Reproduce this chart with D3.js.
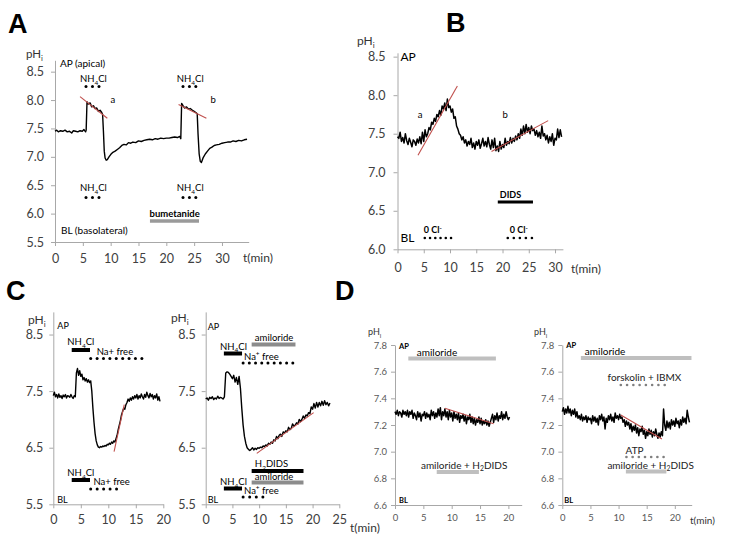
<!DOCTYPE html>
<html><head><meta charset="utf-8">
<script src="https://cdn.jsdelivr.net/npm/d3@7"></script>
<style>body{margin:0;background:#fff}svg{display:block}text{font-family:Lato,"Open Sans",sans-serif}</style>
</head><body><svg id="c" width="748" height="545"></svg>
<script>
// ---------------- DATA ----------------
const A_time = [0,0.3,0.6,1,1.4,1.8,2.2,2.6,3,3.3,3.7,4.1,4.5,4.9,5.2,5.5,5.6,5.75,6.0,6.3,6.6,6.9,7.2,7.5,7.8,8.1,8.4,8.55,8.7,8.85,9.0,9.2,9.4,9.7,10,10.4,10.8,11.2,11.6,12,12.4,12.8,13.2,13.6,14,14.5,15,15.5,16,16.5,17,17.5,18,18.5,19,19.5,20,20.5,21,21.5,22,22.4,22.6,22.75,23,23.3,23.6,24,24.3,24.7,25,25.3,25.55,25.7,25.9,26.1,26.3,26.6,27,27.4,27.8,28.2,28.6,29,29.5,30,30.5,31,31.5,32,32.5,33,33.5,34,34.5];
const A_pH = [7.45,7.47,7.44,7.46,7.45,7.47,7.44,7.45,7.42,7.46,7.45,7.44,7.46,7.45,7.48,7.44,7.47,7.97,7.93,7.95,7.88,7.90,7.85,7.86,7.80,7.82,7.78,7.75,7.45,7.10,6.98,6.94,6.95,7.00,7.04,7.08,7.10,7.13,7.16,7.20,7.22,7.21,7.25,7.24,7.26,7.25,7.28,7.27,7.29,7.30,7.31,7.30,7.32,7.31,7.33,7.32,7.33,7.33,7.34,7.35,7.34,7.36,7.32,7.94,7.90,7.86,7.88,7.84,7.85,7.82,7.80,7.78,7.76,7.40,7.05,6.92,6.90,6.98,7.05,7.10,7.15,7.17,7.20,7.21,7.22,7.24,7.25,7.26,7.26,7.28,7.27,7.29,7.28,7.30,7.31];
const A_fits = [[4.5,8.06,9.4,7.68],[22.2,7.92,27.2,7.68]];
const A_xTicks = [0,5,10,15,20,25,30];
const A_yTicks = [5.5,6.0,6.5,7.0,7.5,8.0,8.5];

const B_step = 0.25;
const B_pH = [7.46,7.44,7.52,7.40, 7.45,7.38,7.50,7.41, 7.36,7.44,7.39,7.33, 7.42,7.40,7.35,7.43,
  7.38,7.46,7.37,7.52, 7.40,7.55,7.46,7.50, 7.58,7.55,7.65,7.62, 7.70,7.66,7.75,7.72,
  7.80,7.74,7.86,7.82, 7.90,7.80,7.95,7.84, 7.86,7.78,7.82,7.70, 7.72,7.60,7.56,7.50,
  7.48,7.42,7.46,7.38, 7.42,7.34,7.40,7.36, 7.44,7.32,7.38,7.30, 7.40,7.35,7.42,7.31,
  7.37,7.44,7.34,7.40, 7.33,7.45,7.36,7.30, 7.42,7.32,7.44,7.28, 7.34,7.27,7.40,7.30,
  7.36,7.32,7.44,7.35, 7.40,7.37,7.45,7.38, 7.44,7.40,7.47,7.42, 7.50,7.44,7.56,7.48,
  7.60,7.50,7.62,7.52, 7.58,7.50,7.60,7.54, 7.56,7.48,7.54,7.46, 7.52,7.44,7.60,7.47,
  7.50,7.42,7.48,7.38, 7.46,7.40,7.50,7.35, 7.44,7.42,7.56,7.45, 7.55,7.46];
const B_fits = [[3.9,7.22,11.4,8.12],[17.9,7.27,28.7,7.67]];
const B_xTicks = [0,5,10,15,20,25,30];
const B_yTicks = [6.0,6.5,7.0,7.5,8.0,8.5];

const C1_step = 0.2;
const C1_pH = [7.42,7.48,7.40,7.44,7.38, 7.45,7.39,7.42,7.37,7.43, 7.40,7.44,7.38,7.42,7.41, 7.39,7.44,7.40,7.37,7.42,
  7.40,7.82,7.90,7.78,7.86, 7.76,7.80,7.70,7.74,7.68, 7.72,7.66,7.70,7.65,7.68, 7.50,7.20,6.95,6.75,6.62,
  6.55,6.51,6.50,6.52,6.51, 6.53,6.52,6.54,6.53,6.56, 6.55,6.58,6.56,6.60,6.58, 6.62,6.60,6.66,6.72,6.82,
  6.90,6.98,7.08,7.14,7.20, 7.18,7.26,7.30,7.36,7.32, 7.38,7.34,7.40,7.36,7.42, 7.38,7.44,7.36,7.42,7.38,
  7.45,7.40,7.36,7.44,7.39, 7.48,7.42,7.38,7.46,7.40, 7.44,7.36,7.42,7.38,7.45, 7.34,7.40,7.32];
const C1_fits = [[11.05,6.43,12.9,7.26]];
const C1_xTicks = [0,5,10,15,20];
const C_yTicks = [5.5,6.5,7.5,8.5];

const C2_step = 0.25;
const C2_pH = [7.36,7.38,7.34,7.39, 7.37,7.40,7.35,7.38, 7.36,7.41,7.37,7.39, 7.38,7.36,7.40,7.82,
  7.84,7.83,7.80,7.76, 7.72,7.78,7.66,7.74, 7.62,7.76,7.55,7.20, 6.90,6.70,6.58,6.50,
  6.47,6.45,6.47,6.50, 6.46,6.49,6.47,6.50, 6.49,6.51,6.50,6.53, 6.52,6.55,6.53,6.58,
  6.56,6.60,6.58,6.64, 6.62,6.70,6.66,6.72, 6.74,6.70,6.78,6.76, 6.80,6.78,6.86,6.82,
  6.84,6.92,6.88,6.90, 6.94,6.92,7.00,6.96, 7.00,7.06,7.02,7.08, 7.06,7.12,7.10,7.22,
  7.18,7.28,7.20,7.30, 7.22,7.30,7.24,7.32, 7.25,7.33,7.26,7.30, 7.24,7.29];
const C2_fits = [[9.55,6.40,20.2,7.12]];
const C2_xTicks = [0,5,10,15,20,25];

const D1_step = 0.2;
const D1_pH = [7.30,7.28,7.31,7.27,7.30, 7.29,7.26,7.31,7.28,7.30, 7.27,7.31,7.26,7.30,7.28, 7.31,7.25,7.29,7.27,7.24,
  7.30,7.26,7.29,7.23,7.28, 7.27,7.30,7.25,7.29,7.26, 7.28,7.24,7.31,7.27,7.30, 7.25,7.29,7.26,7.32,7.27,
  7.33,7.24,7.30,7.27,7.32, 7.26,7.30,7.24,7.31,7.26, 7.29,7.23,7.30,7.25,7.28, 7.24,7.29,7.22,7.27,7.25,
  7.28,7.23,7.27,7.21,7.26, 7.24,7.28,7.22,7.26,7.21, 7.25,7.20,7.24,7.22,7.26, 7.21,7.25,7.20,7.23,7.21,
  7.24,7.20,7.23,7.19,7.22, 7.25,7.28,7.22,7.27,7.24, 7.29,7.23,7.27,7.25,7.30, 7.24,7.28,7.25,7.30,7.26, 7.24,7.26];
const D1_fits = [[8.8,7.325,17.4,7.21]];

const D2_step = 0.2;
const D2_pH = [7.30,7.33,7.28,7.32,7.29, 7.34,7.29,7.32,7.27,7.31, 7.28,7.32,7.26,7.30,7.25, 7.27,7.24,7.28,7.23,7.26,
  7.24,7.27,7.22,7.26,7.24, 7.25,7.21,7.27,7.23,7.26, 7.22,7.25,7.20,7.27,7.24, 7.28,7.23,7.26,7.17,7.25,
  7.22,7.27,7.24,7.28,7.23, 7.26,7.22,7.29,7.25,7.27, 7.24,7.28,7.25,7.26,7.22, 7.24,7.19,7.23,7.20,7.22,
  7.17,7.21,7.15,7.19,7.16, 7.20,7.14,7.18,7.12,7.17, 7.15,7.19,7.13,7.16,7.10, 7.15,7.12,7.17,7.13,7.16,
  7.11,7.15,7.12,7.17,7.13, 7.10,7.14,7.11,7.15,7.12, 7.32,7.20,7.16,7.23,7.18, 7.22,7.17,7.24,7.20,7.23,
  7.19,7.25,7.21,7.23,7.18, 7.24,7.20,7.26,7.22,7.25, 7.21,7.31,7.26,7.22];
const D2_fits = [[10.4,7.275,17.7,7.095]];
const D_xTicks = [0,5,10,15,20];
const D_yTicks = [6.6,6.8,7.0,7.2,7.4,7.6,7.8];

// ---------------- HELPERS ----------------
const svg = d3.select('#c');
const RED = '#c0504d';

function rich(g, str, x, y, o) {
  o = o || {};
  const fs = o.fs || 10;
  const t = g.append('text').attr('x', x).attr('y', y)
    .attr('font-size', fs).attr('fill', o.fill || '#000')
    .attr('text-anchor', o.anchor || 'start')
    .attr('font-weight', o.bold ? 'bold' : 'normal');
  const re = /(_\{[^}]*\}|_.|\^\{[^}]*\}|\^.|[^_^]+)/g;
  let m, off = 0;
  while ((m = re.exec(str))) {
    let s = m[0];
    if (s[0] === '_' || s[0] === '^') {
      const sub = s[0] === '_';
      let c = s.slice(1); if (c[0] === '{') c = c.slice(1, -1);
      const d = sub ? fs * 0.28 : -fs * 0.38;
      t.append('tspan').attr('dy', d - off).attr('font-size', fs * 0.68).text(c);
      off = d;
    } else {
      t.append('tspan').attr('dy', -off).text(s);
      off = 0;
    }
  }
  return t;
}

function panel(p) {
  const g = svg.append('g');
  const x = d3.scaleLinear().domain(p.xd).range(p.xr);
  const y = d3.scaleLinear().domain(p.yd).range(p.yr);
  const ax = g.append('g').attr('transform', `translate(0,${y(p.yd[0])})`)
    .call(d3.axisBottom(x).tickValues(p.xTicks).tickSize(4).tickSizeOuter(0).tickPadding(p.xPad).tickFormat(d3.format('d')));
  const ay = g.append('g').attr('transform', `translate(${x(0)},0)`)
    .call(d3.axisLeft(y).tickValues(p.yTicks).tickSize(4).tickSizeOuter(0).tickPadding(p.yPad).tickFormat(d3.format('.1f')));
  [ax, ay].forEach(a => {
    a.select('.domain').attr('stroke', '#a8a8a8');
    a.selectAll('.tick line').attr('stroke', '#a8a8a8');
    a.selectAll('.tick text').attr('fill', p.tickColor || '#404040')
      .attr('font-size', p.fs).style('font-family', 'Lato, sans-serif');
  });
  const pts = p.t.map((t, i) => [t, p.v[i]]);
  g.append('path').datum(pts).attr('fill', 'none').attr('stroke', '#000')
    .attr('stroke-width', p.lw || 1.4).attr('stroke-linejoin', 'round')
    .attr('d', d3.line().x(d => x(d[0])).y(d => y(d[1])));
  g.selectAll('line.fit').data(p.fits).enter().append('line').attr('class', 'fit')
    .attr('x1', d => x(d[0])).attr('y1', d => y(d[1]))
    .attr('x2', d => x(d[2])).attr('y2', d => y(d[3]))
    .attr('stroke', RED).attr('stroke-width', 1.1);
  (p.notes || []).forEach(n => {
    const px = n.t !== undefined ? x(n.t) + (n.dx || 0) : x(0) + (n.dx || 0);
    if (n.type === 'text') {
      rich(g, n.s, px, n.y, { fs: n.fs || p.nfs, anchor: n.anchor, bold: n.bold, fill: n.fill });
    } else if (n.type === 'bar') {
      g.append('line').attr('x1', x(n.t0)).attr('x2', x(n.t1)).attr('y1', n.y).attr('y2', n.y)
        .attr('stroke', n.c || '#000').attr('stroke-width', n.w || 3.5);
    } else if (n.type === 'dots') {
      const xs = d3.range(n.n).map(i => x(n.t0) + (x(n.t1) - x(n.t0)) * i / (n.n - 1));
      g.selectAll(null).data(xs).enter().append('circle')
        .attr('cx', d => d).attr('cy', n.y).attr('r', n.r || 1.5).attr('fill', n.c || '#000');
    }
  });
  return { x, y, g };
}

// ---------------- PANELS ----------------
panel({
  xd: [0, 34.8], xr: [55, 248.7], yd: [5.5, 8.7], yr: [242, 60.3],
  xTicks: A_xTicks, yTicks: A_yTicks, fs: 12.5, xPad: 8, yPad: 7,
  t: A_time, v: A_pH, fits: A_fits, nfs: 9.5,
  notes: [
    { type: 'text', s: 'AP (apical)', dx: 5, y: 67, fs: 10 },
    { type: 'text', s: 'NH_4Cl', t: 6.9, y: 82, anchor: 'middle' },
    { type: 'dots', t0: 5.57, t1: 7.9, n: 3, y: 86.5 },
    { type: 'text', s: 'a', t: 10.4, y: 103, fs: 9.5, anchor: 'middle' },
    { type: 'text', s: 'NH_4Cl', t: 24.3, y: 82, anchor: 'middle' },
    { type: 'dots', t0: 23.0, t1: 25.3, n: 3, y: 86.5 },
    { type: 'text', s: 'b', t: 28.4, y: 103, fs: 9.5, anchor: 'middle' },
    { type: 'text', s: 'NH_4Cl', t: 6.9, y: 191, anchor: 'middle' },
    { type: 'dots', t0: 5.57, t1: 7.9, n: 3, y: 197.5 },
    { type: 'text', s: 'NH_4Cl', t: 24.3, y: 191, anchor: 'middle' },
    { type: 'dots', t0: 23.0, t1: 25.3, n: 3, y: 197.5 },
    { type: 'text', s: 'bumetanide', t: 21.5, y: 217, anchor: 'middle', bold: true, fs: 9.5 },
    { type: 'bar', t0: 17.06, t1: 25.87, y: 221, c: '#9a9a9a', w: 3.5 },
    { type: 'text', s: 'BL (basolateral)', dx: 6, y: 234, fs: 10 }
  ]
});

panel({
  xd: [0, 31.5], xr: [397.5, 562.9], yd: [6.0, 8.55], yr: [249.3, 52.8],
  xTicks: B_xTicks, yTicks: B_yTicks, fs: 12.5, xPad: 10, yPad: 8,
  t: B_pH.map((v, i) => i * B_step), v: B_pH, fits: B_fits, nfs: 9.5, lw: 1.5,
  notes: [
    { type: 'text', s: 'AP', dx: 3, y: 61, fs: 12 },
    { type: 'text', s: 'a', t: 4.3, y: 118, anchor: 'middle' },
    { type: 'text', s: 'b', t: 20.5, y: 118, anchor: 'middle' },
    { type: 'text', s: 'DIDS', t: 19.1, dx: 2, y: 198, bold: true, fs: 9 },
    { type: 'bar', t0: 19.1, t1: 25.8, y: 202, c: '#000', w: 3 },
    { type: 'text', s: '0 Cl^-', t: 5.2, dx: -1, y: 233, bold: true, fs: 9 },
    { type: 'dots', t0: 5.2, t1: 10.2, n: 6, y: 238, r: 1.3 },
    { type: 'text', s: '0 Cl^-', t: 21, dx: 2, y: 233, bold: true, fs: 9 },
    { type: 'dots', t0: 21, t1: 25.6, n: 5, y: 238, r: 1.3 },
    { type: 'text', s: 'BL', dx: 3, y: 242, fs: 12 }
  ]
});

panel({
  xd: [0, 20], xr: [53.3, 163.3], yd: [5.5, 8.9], yr: [504.3, 311.9],
  xTicks: C1_xTicks, yTicks: C_yTicks, fs: 12.5, xPad: 7, yPad: 6,
  t: C1_pH.map((v, i) => i * C1_step), v: C1_pH, fits: C1_fits, nfs: 9.5,
  notes: [
    { type: 'text', s: 'AP', dx: 4, y: 329, fs: 9 },
    { type: 'text', s: 'NH_4Cl', t: 5.0, y: 345, anchor: 'middle' },
    { type: 'bar', t0: 3.35, t1: 6.67, y: 350, c: '#000', w: 4 },
    { type: 'text', s: 'Na+ free', t: 7.9, y: 355 },
    { type: 'dots', t0: 6.8, t1: 16.1, n: 9, y: 358.5 },
    { type: 'text', s: 'NH_4Cl', t: 5.0, y: 476, anchor: 'middle' },
    { type: 'bar', t0: 3.35, t1: 6.67, y: 480, c: '#000', w: 4 },
    { type: 'text', s: 'Na+ free', t: 7.3, y: 485 },
    { type: 'dots', t0: 6.8, t1: 11.5, n: 5, y: 489 },
    { type: 'text', s: 'BL', dx: 4, y: 503, fs: 9 }
  ]
});

panel({
  xd: [0, 25], xr: [205.7, 339.3], yd: [5.5, 8.9], yr: [504.3, 311.9],
  xTicks: C2_xTicks, yTicks: C_yTicks, fs: 12.5, xPad: 7, yPad: 6,
  t: C2_pH.map((v, i) => i * C2_step), v: C2_pH, fits: C2_fits, nfs: 9.5,
  notes: [
    { type: 'text', s: 'AP', dx: 2, y: 330, fs: 9 },
    { type: 'text', s: 'amiloride', t: 9.2, y: 340.5 },
    { type: 'bar', t0: 8.6, t1: 16.8, y: 344.5, c: '#8c8c8c', w: 4 },
    { type: 'text', s: 'NH_4Cl', t: 2.68, y: 349.5 },
    { type: 'bar', t0: 3.4, t1: 6.8, y: 353.5, c: '#000', w: 4 },
    { type: 'text', s: 'Na^+ free', t: 7.17, y: 360 },
    { type: 'dots', t0: 7.0, t1: 16.3, n: 9, y: 363 },
    { type: 'text', s: 'H_2DIDS', t: 9.2, y: 467 },
    { type: 'bar', t0: 8.6, t1: 18.3, y: 471, c: '#000', w: 4 },
    { type: 'text', s: 'amiloride', t: 9.2, y: 480 },
    { type: 'bar', t0: 8.6, t1: 18.3, y: 482.5, c: '#8c8c8c', w: 4 },
    { type: 'text', s: 'NH_4Cl', t: 2.68, y: 485 },
    { type: 'bar', t0: 3.4, t1: 6.8, y: 488.5, c: '#000', w: 4 },
    { type: 'text', s: 'Na^+ free', t: 7.17, y: 494 },
    { type: 'dots', t0: 7.0, t1: 10.7, n: 4, y: 497 },
    { type: 'text', s: 'BL', dx: 2, y: 503, fs: 9 }
  ]
});

panel({
  xd: [0, 22.35], xr: [395, 521.7], yd: [6.6, 7.8], yr: [505, 345],
  xTicks: D_xTicks, yTicks: D_yTicks, fs: 9.5, xPad: 5, yPad: 4, tickColor: '#595959',
  t: D1_pH.map((v, i) => i * D1_step), v: D1_pH, fits: D1_fits, nfs: 10, lw: 1.5,
  notes: [
    { type: 'text', s: 'AP', dx: 4, y: 349, fs: 7.5, bold: true },
    { type: 'text', s: 'amiloride', t: 3.83, y: 356 },
    { type: 'bar', t0: 2.35, t1: 17.8, y: 358.5, c: '#bfbfbf', w: 4 },
    { type: 'text', s: 'amiloride + H_2DIDS', t: 12.2, y: 468.5, anchor: 'middle', fill: '#222' },
    { type: 'bar', t0: 7.36, t1: 14.8, y: 472, c: '#bfbfbf', w: 4 },
    { type: 'text', s: 'BL', dx: 4, y: 503, fs: 7.5, bold: true }
  ]
});

panel({
  xd: [0, 23], xr: [562.3, 691.7], yd: [6.6, 7.8], yr: [505, 345],
  xTicks: D_xTicks, yTicks: D_yTicks, fs: 9.5, xPad: 5, yPad: 4, tickColor: '#595959',
  t: D2_pH.map((v, i) => i * D2_step), v: D2_pH, fits: D2_fits, nfs: 10, lw: 1.5,
  notes: [
    { type: 'text', s: 'AP', dx: 4, y: 348, fs: 7.5, bold: true },
    { type: 'text', s: 'amiloride', t: 4.0, y: 355 },
    { type: 'bar', t0: 3.3, t1: 22.96, y: 358, c: '#bfbfbf', w: 4 },
    { type: 'text', s: 'forskolin + IBMX', t: 14.6, y: 381, anchor: 'middle', fill: '#222' },
    { type: 'dots', t0: 10.4, t1: 18.2, n: 8, y: 385, r: 1.3, c: '#7f7f7f' },
    { type: 'text', s: 'ATP', t: 11.25, y: 454, fill: '#222' },
    { type: 'dots', t0: 11.4, t1: 18.0, n: 7, y: 457, r: 1.3, c: '#7f7f7f' },
    { type: 'text', s: 'amiloride + H_2DIDS', t: 15.7, y: 468.5, anchor: 'middle', fill: '#222' },
    { type: 'bar', t0: 11.3, t1: 18.5, y: 471.5, c: '#bfbfbf', w: 4 },
    { type: 'text', s: 'BL', dx: 2, y: 503, fs: 7.5, bold: true }
  ]
});

// ---------------- LABELS ----------------
const lab = svg.append('g');
[['A', 8, 33], ['B', 446, 32], ['C', 6, 300], ['D', 335, 300]].forEach(d =>
  lab.append('text').attr('x', d[1]).attr('y', d[2]).attr('font-size', 27).attr('font-weight', 'bold')
    .style('font-family', '"Liberation Sans", Arial, sans-serif').text(d[0]));
rich(lab, 'pH_i', 26, 58, { fs: 11.5, fill: '#333' });
rich(lab, 'pH_i', 357, 45, { fs: 12, fill: '#333' });
rich(lab, 'pH_i', 28, 324, { fs: 12, fill: '#333' });
rich(lab, 'pH_i', 171, 322, { fs: 12, fill: '#333' });
rich(lab, 'pH_i', 368, 335, { fs: 9, fill: '#333' });
rich(lab, 'pH_i', 534, 335, { fs: 9, fill: '#333' });
rich(lab, 't(min)', 243, 262, { fs: 12, fill: '#333' });
rich(lab, 't(min)', 571, 273, { fs: 12, fill: '#333' });
rich(lab, 't(min)', 350, 532, { fs: 12, fill: '#333' });
rich(lab, 't(min)', 690, 524, { fs: 10, fill: '#333' });
</script></body></html>
